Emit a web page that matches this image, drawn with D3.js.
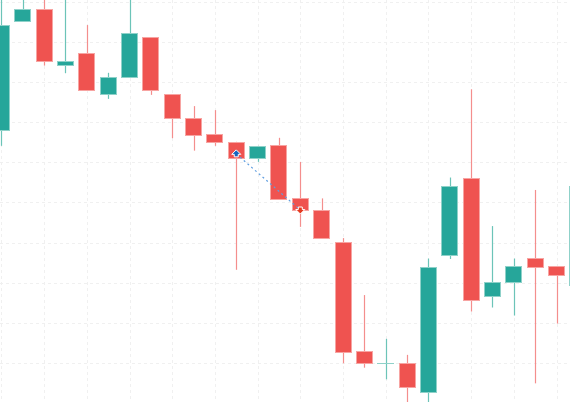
<!DOCTYPE html>
<html>
<head>
<meta charset="utf-8">
<script src="https://cdn.jsdelivr.net/npm/d3@7"></script>
<style>
html,body{margin:0;padding:0;background:#fff;}
svg{display:block;}
</style>
</head>
<body>
<svg id="chart" width="570" height="402"></svg>
<script>
// Candle data (index = bar number)
const opens  = [68.0, 95.0, 98.1, 84.1, 87.2, 76.9, 81.1, 91.2, 77.0, 71.1, 67.1, 65.1, 61.1, 64.2, 51.0, 48.0, 40.1, 13.0, 9.9, 9.9, 2.8, 36.9, 56.2, 26.7, 30.0, 36.1, 34.1, 29.4];
const highs  = [102.9, 104.2, 101.7, 101.7, 94.2, 82.3, 102.4, 91.2, 77.0, 74.0, 73.0, 65.1, 64.1, 66.1, 60.1, 51.0, 41.1, 26.9, 16.0, 12.0, 36.0, 56.2, 78.2, 44.1, 36.0, 53.1, 34.1, 54.1];
const lows   = [64.1, 95.0, 84.1, 82.2, 78.1, 75.8, 81.1, 76.8, 66.0, 62.9, 64.1, 33.2, 60.1, 50.8, 43.9, 40.9, 9.9, 8.8, 5.9, -0.5, -0.5, 35.9, 22.8, 23.8, 21.8, 4.9, 19.8, 29.4];
const closes = [94.2, 98.1, 85.1, 85.2, 78.1, 81.2, 92.1, 78.1, 71.0, 66.9, 65.0, 61.0, 64.1, 50.8, 47.9, 40.9, 12.8, 9.9, 9.9, 3.9, 34.0, 54.2, 25.8, 30.1, 34.1, 33.9, 31.9, 54.1];
const yTicks = [0, 10, 20, 30, 40, 50, 60, 70, 80, 90, 100];
const xGridBars = [0, 2, 4, 6, 8, 10, 12, 14, 16, 18, 20, 22, 24, 26];
// Trade markers
const tradeBars   = [11, 14];
const tradePrices = [62.1, 48.1];
const tradeTypes  = ["entry", "exit"];

const W = 570, H = 402;
const svg = d3.select("#chart");
const x = d3.scaleLinear().domain([0, 27]).range([1.4, 1.4 + 21.35 * 27]);
const y = d3.scaleLinear().domain([0, 100]).range([403, 1.8]);
const step = x(1) - x(0);
const bw = Math.round(step * 0.7);

const candles = opens.map((o, i) => ({i, o, h: highs[i], l: lows[i], c: closes[i], up: closes[i] >= o}));

// grid
const grid = svg.append("g");
grid.selectAll("line.h").data(yTicks).join("line")
  .attr("x1", 0).attr("x2", W)
  .attr("y1", d => Math.round(y(d)) + 0.5).attr("y2", d => Math.round(y(d)) + 0.5)
  .attr("stroke", "#f0f0f0").attr("stroke-dasharray", "3,3");
grid.selectAll("line.v").data(xGridBars).join("line")
  .attr("y1", 0).attr("y2", H)
  .attr("x1", d => Math.round(x(d)) + 0.5).attr("x2", d => Math.round(x(d)) + 0.5)
  .attr("stroke", "#f0f0f0").attr("stroke-dasharray", "3,3");

const upC = "#26a69a", dnC = "#ef5350";
const upWick = "#6cc4b8", dnWick = "#f48e8d";
const upEdge = "#8fd1c9", dnEdge = "#f7a4a2";

const g = svg.append("g");
// wicks
g.selectAll("line.wick").data(candles).join("line")
  .attr("x1", d => Math.round(x(d.i)) + 0.5).attr("x2", d => Math.round(x(d.i)) + 0.5)
  .attr("y1", d => y(d.h)).attr("y2", d => y(d.l))
  .attr("stroke", d => d.up ? upWick : dnWick).attr("stroke-width", 1.2);
// bodies
g.selectAll("rect.body").data(candles).join("rect")
  .attr("x", d => Math.round(x(d.i) - bw / 2) - 0.5)
  .attr("y", d => Math.round(y(Math.max(d.o, d.c))) + 0.5)
  .attr("width", bw + 1)
  .attr("height", d => Math.max(0.01, Math.round(Math.abs(y(d.o) - y(d.c)))))
  .attr("fill", d => d.up ? upC : dnC)
  .attr("stroke", d => d.up ? upEdge : dnEdge).attr("stroke-width", 1);

// trade link
const tr = tradeBars.map((b, k) => ({b, p: tradePrices[k], t: tradeTypes[k]}));
svg.append("line")
  .attr("x1", x(tr[0].b)).attr("y1", y(tr[0].p))
  .attr("x2", x(tr[1].b)).attr("y2", y(tr[1].p))
  .attr("stroke", "#5f9ee0").attr("stroke-width", 1.2).attr("stroke-dasharray", "2,3");

// markers
tr.forEach(d => {
  const cx = x(d.b), cy = y(d.p);
  if (d.t === "entry") {
    svg.append("path")
      .attr("d", `M${cx},${cy-4} L${cx+4.5},${cy+0.5} L${cx+2},${cy+0.5} L${cx+2},${cy+3} L${cx-2},${cy+3} L${cx-2},${cy+0.5} L${cx-4.5},${cy+0.5} Z`)
      .attr("fill", "#1565c0").attr("stroke", "#ffffff").attr("stroke-width", 1);
  } else {
    svg.append("path")
      .attr("d", `M${cx},${cy+4} L${cx+4.5},${cy-0.5} L${cx+2},${cy-0.5} L${cx+2},${cy-3} L${cx-2},${cy-3} L${cx-2},${cy-0.5} L${cx-4.5},${cy-0.5} Z`)
      .attr("fill", "#e5391f").attr("stroke", "#ffffff").attr("stroke-width", 1);
  }
});
</script>
</body>
</html>
